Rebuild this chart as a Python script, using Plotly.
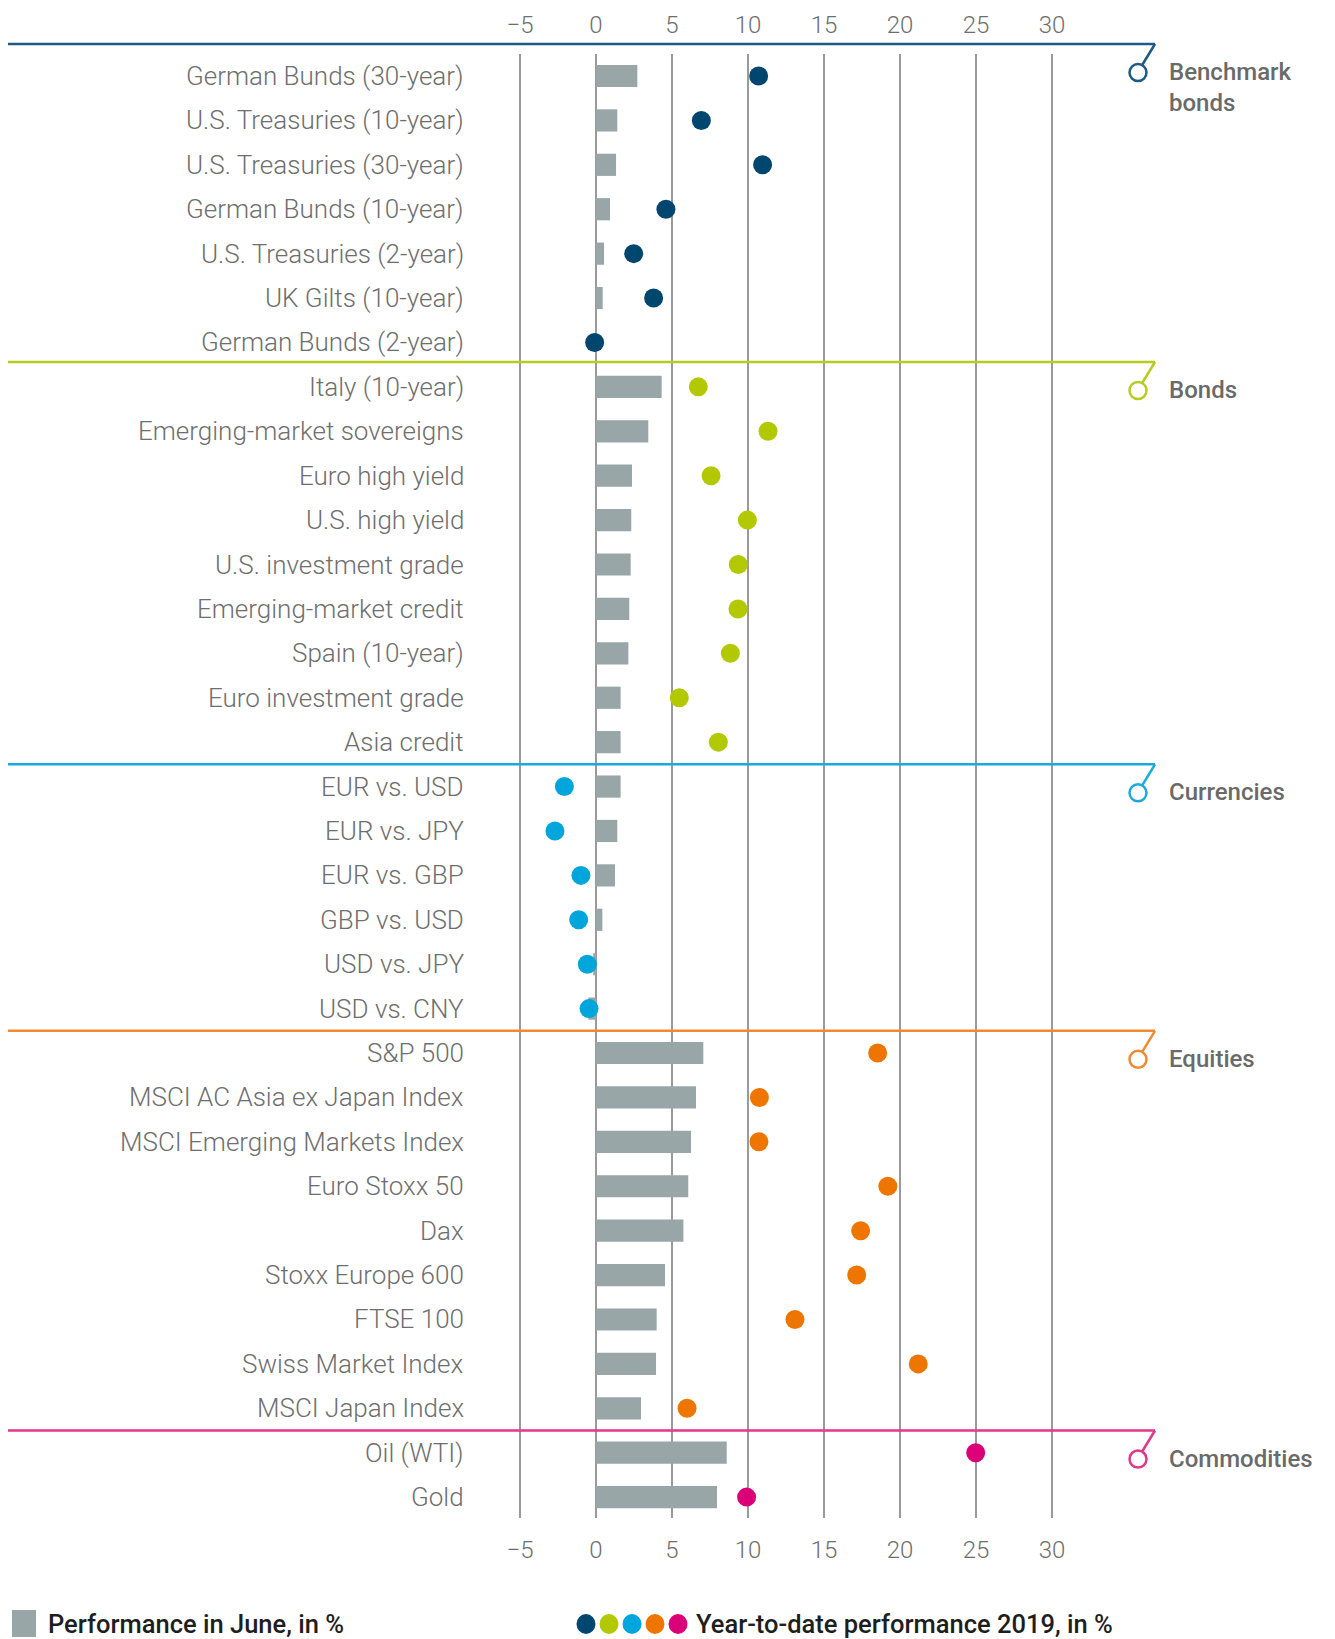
import plotly.graph_objects as go

# ---------------- data ----------------
groups = ["Benchmark bonds", "Bonds", "Currencies", "Equities", "Commodities"]
group_labels = ["Benchmark<br>bonds", "Bonds", "Currencies", "Equities", "Commodities"]

benchmark_names = ["German Bunds (30-year)", "U.S. Treasuries (10-year)", "U.S. Treasuries (30-year)",
                   "German Bunds (10-year)", "U.S. Treasuries (2-year)", "UK Gilts (10-year)",
                   "German Bunds (2-year)"]
benchmark_june = [2.72, 1.4, 1.32, 0.92, 0.53, 0.44, 0.05]
benchmark_ytd = [10.7, 6.93, 10.96, 4.6, 2.48, 3.79, -0.09]

bonds_names = ["Italy (10-year)", "Emerging-market sovereigns", "Euro high yield", "U.S. high yield",
               "U.S. investment grade", "Emerging-market credit", "Spain (10-year)",
               "Euro investment grade", "Asia credit"]
bonds_june = [4.32, 3.44, 2.37, 2.32, 2.28, 2.19, 2.13, 1.62, 1.62]
bonds_ytd = [6.73, 11.32, 7.57, 9.96, 9.36, 9.34, 8.84, 5.48, 8.05]

fx_names = ["EUR vs. USD", "EUR vs. JPY", "EUR vs. GBP", "GBP vs. USD", "USD vs. JPY", "USD vs. CNY"]
fx_june = [1.62, 1.4, 1.25, 0.42, -0.18, -0.5]
fx_ytd = [-2.08, -2.7, -0.99, -1.14, -0.57, -0.46]

eq_names = ["S&P 500", "MSCI AC Asia ex Japan Index", "MSCI Emerging Markets Index", "Euro Stoxx 50",
            "Dax", "Stoxx Europe 600", "FTSE 100", "Swiss Market Index", "MSCI Japan Index"]
eq_june = [7.06, 6.58, 6.25, 6.07, 5.75, 4.54, 3.99, 3.95, 2.96]
eq_ytd = [18.53, 10.75, 10.72, 19.2, 17.41, 17.15, 13.09, 21.2, 5.99]

com_names = ["Oil (WTI)", "Gold"]
com_june = [8.6, 7.96]
com_ytd = [24.98, 9.91]

tick_values = [-5, 0, 5, 10, 15, 20, 25, 30]
tick_labels = ["\u22125", "0", "5", "10", "15", "20", "25", "30"]

legend_june = "Performance in June, in %"
legend_ytd = "Year-to-date performance 2019, in %"

# ---------------- styles ----------------
dot_colors = ["#00466e", "#b2c800", "#00a5dc", "#ee7600", "#dc0078"]
line_colors = ["#1f5a82", "#b6cc1e", "#1aa8de", "#f08a32", "#e0378a"]
bar_color = "#98a6a8"
grid_color = "#9a9a9a"
text_gray = "#6e6e6e"
FONT = "Roboto"

W, H = 1335, 1639
PL, PR, PT, PB = 8, 1155, 54, 1518          # plot area in px
ROW0, ROWSTEP = 76, 44.41
X0PX, XUNIT = 596, 15.2

x_lo = (PL - X0PX) / XUNIT
x_hi = (PR - X0PX) / XUNIT


def xpx(px):
    return (px - PL) / (PR - PL)


def ypx(py):
    return (PB - py) / (PB - PT)


def yrow(idx):
    return ypx(ROW0 + idx * ROWSTEP)


names_by_group = [benchmark_names, bonds_names, fx_names, eq_names, com_names]
june_by_group = [benchmark_june, bonds_june, fx_june, eq_june, com_june]
ytd_by_group = [benchmark_ytd, bonds_ytd, fx_ytd, eq_ytd, com_ytd]
sep_offsets = [-0.72, -0.56, -0.5, -0.5, -0.5]

all_names = [n for g in names_by_group for n in g]
all_june = [v for g in june_by_group for v in g]
n_rows = len(all_names)

y_top = (PT - ROW0) / ROWSTEP
y_bot = (n_rows - 1) + (PB - (ROW0 + (n_rows - 1) * ROWSTEP)) / ROWSTEP

fig = go.Figure()

fig.add_trace(go.Bar(
    y=all_names, x=all_june, orientation="h", width=0.5,
    marker=dict(color=bar_color, line=dict(width=0)),
    showlegend=False, hoverinfo="x+y",
))

for gi, g in enumerate(groups):
    fig.add_trace(go.Scatter(
        y=names_by_group[gi], x=ytd_by_group[gi], mode="markers",
        marker=dict(color=dot_colors[gi], size=19, line=dict(width=0)),
        showlegend=False, name=g,
    ))

# dummy trace for the bottom axis
fig.add_trace(go.Scatter(x=[None], y=[None], xaxis="x2", showlegend=False, hoverinfo="skip"))

shapes = []
annotations = []

# category labels
for name in all_names:
    annotations.append(dict(
        x=(466 - X0PX) / XUNIT, y=name, xref="x", yref="y", text=name, showarrow=False,
        xanchor="right", yanchor="middle",
        font=dict(family=FONT, size=26, color=text_gray, weight=300),
    ))

# group separators
start = 0
for gi, g in enumerate(groups):
    sep = start + sep_offsets[gi]
    ysep = yrow(sep)
    col = line_colors[gi]
    shapes.append(dict(type="line", xref="paper", yref="paper", x0=0, x1=1, y0=ysep, y1=ysep,
                       line=dict(color=col, width=2.5), layer="above"))
    shapes.append(dict(type="line", xref="paper", yref="paper", xsizemode="pixel", ysizemode="pixel",
                       xanchor=1, yanchor=ysep, x0=0, x1=-12.5, y0=0, y1=-20.5,
                       line=dict(color=col, width=2.5)))
    shapes.append(dict(type="circle", xref="paper", yref="paper", xsizemode="pixel", ysizemode="pixel",
                       xanchor=1, yanchor=ysep, x0=-25.5, x1=-8.5, y0=-37, y1=-20,
                       line=dict(color=col, width=2.5), fillcolor="white"))
    nl = group_labels[gi].count("<br>")
    annotations.append(dict(
        x=xpx(1167), y=ysep, xref="paper", yref="paper", text=group_labels[gi], showarrow=False,
        xanchor="left", yanchor="middle", align="left", yshift=-28 - nl * 15.5,
        font=dict(family=FONT, size=24, color="#6a6a6a", weight=500),
    ))
    start += len(names_by_group[gi])

# legend
shapes.append(dict(type="rect", xref="paper", yref="paper", x0=xpx(12), x1=xpx(36),
                   y0=ypx(1637), y1=ypx(1610), fillcolor=bar_color, line=dict(width=0)))
dot_x = [586, 609, 632, 655, 678]
for i, c in enumerate(dot_colors):
    shapes.append(dict(type="circle", xref="paper", yref="paper", xsizemode="pixel", ysizemode="pixel",
                       xanchor=xpx(dot_x[i]), yanchor=ypx(1624), x0=-9.5, x1=9.5, y0=-10, y1=10,
                       fillcolor=c, line=dict(width=0)))
annotations.append(dict(x=xpx(46), y=ypx(1624), xref="paper", yref="paper", text=legend_june,
                        showarrow=False, xanchor="left", yanchor="middle",
                        font=dict(family=FONT, size=25.5, color="#1e1e1e", weight=500)))
annotations.append(dict(x=xpx(694), y=ypx(1624), xref="paper", yref="paper", text=legend_ytd,
                        showarrow=False, xanchor="left", yanchor="middle",
                        font=dict(family=FONT, size=25.5, color="#1e1e1e", weight=500)))

axis_common = dict(
    range=[x_lo, x_hi], tickvals=tick_values, ticktext=tick_labels, ticks="",
    showline=False, zeroline=False,
    tickfont=dict(family=FONT, size=24, color=text_gray, weight=300),
)

fig.update_layout(
    width=W, height=H,
    margin=dict(l=PL, r=W - PR, t=PT, b=H - PB, pad=0),
    paper_bgcolor="white", plot_bgcolor="white",
    xaxis=dict(side="top", showgrid=True, gridcolor=grid_color, gridwidth=1.5,
               ticklabelstandoff=15, **axis_common),
    xaxis2=dict(side="bottom", overlaying="x", matches="x", showgrid=False,
                ticklabelstandoff=15, **axis_common),
    yaxis=dict(categoryorder="array", categoryarray=all_names, range=[y_bot, y_top],
               showticklabels=False, showgrid=False, zeroline=False, showline=False, ticks=""),
    shapes=shapes, annotations=annotations,
    bargap=0.5, showlegend=False,
)

fig.write_html("out.html", config={"displayModeBar": False},
               post_script="document.body.style.margin='0';")
